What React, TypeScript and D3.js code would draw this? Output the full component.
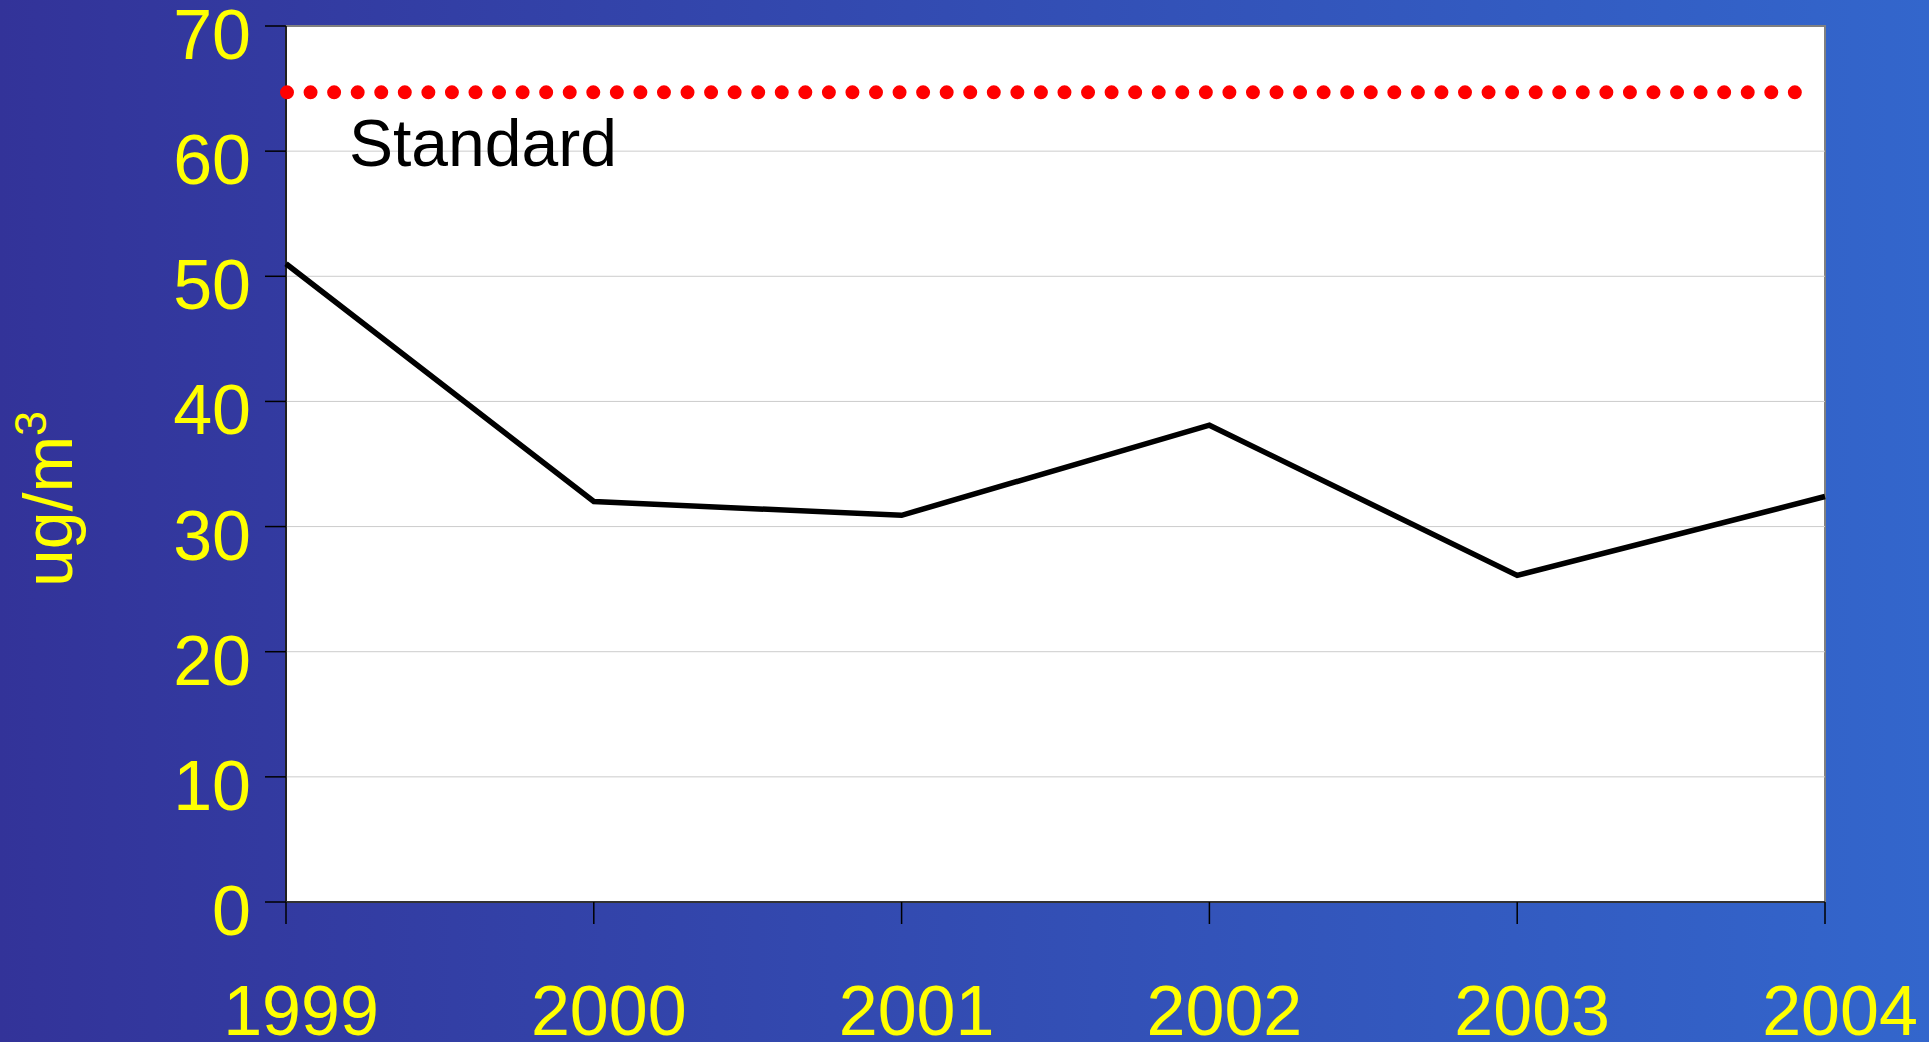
import React, { useEffect, useRef } from "react";
import * as d3 from "d3";

const years = ["1999", "2000", "2001", "2002", "2003", "2004"];
const concentration = [51.0, 32.0, 30.9, 38.1, 26.1, 32.4];
const standardValue = 64.7;
const yTicks = [0, 10, 20, 30, 40, 50, 60, 70];

export default function App() {
  const ref = useRef<SVGSVGElement>(null);

  useEffect(() => {
    if (!ref.current) return;
    const W = 1929,
      H = 1042;
    const margin = { top: 26, right: 104, bottom: 140, left: 286 };
    const width = W - margin.left - margin.right,
      height = H - margin.top - margin.bottom;

    const svg = d3.select(ref.current);
    svg.selectAll("*").remove();

    // background gradient
    const defs = svg.append("defs");
    const grad = defs
      .append("linearGradient")
      .attr("id", "bg")
      .attr("x1", "0")
      .attr("x2", "1")
      .attr("y1", "0")
      .attr("y2", "0");
    grad.append("stop").attr("offset", "0%").attr("stop-color", "#333399");
    grad.append("stop").attr("offset", "100%").attr("stop-color", "#3366cc");
    svg.append("rect").attr("width", W).attr("height", H).attr("fill", "url(#bg)");

    const g = svg
      .append("g")
      .attr("transform", "translate(" + margin.left + "," + margin.top + ")");

    var x = d3
      .scalePoint<string>()
      .domain(years)
      .range([0, width]);
    var y = d3.scaleLinear().domain([0, 70]).range([height, 0]);

    // plot area
    g.append("rect")
      .attr("width", width)
      .attr("height", height)
      .attr("fill", "white")
      .attr("stroke", "#808080")
      .attr("stroke-width", 2);

    // gridlines
    g.selectAll("grid")
      .data(yTicks.filter((d) => d > 0 && d < 70))
      .enter()
      .append("line")
      .attr("x1", 0)
      .attr("x2", width)
      .attr("y1", (d) => y(d))
      .attr("y2", (d) => y(d))
      .attr("stroke", "#cccccc")
      .attr("stroke-width", 1);

    // axes lines
    g.append("line")
      .attr("x1", 0)
      .attr("x2", 0)
      .attr("y1", 0)
      .attr("y2", height)
      .attr("stroke", "black")
      .attr("stroke-width", 1.5);
    g.append("line")
      .attr("x1", 0)
      .attr("x2", width)
      .attr("y1", height)
      .attr("y2", height)
      .attr("stroke", "#333")
      .attr("stroke-width", 2);

    // y ticks + labels
    g.selectAll("ytick")
      .data(yTicks)
      .enter()
      .append("line")
      .attr("x1", -21)
      .attr("x2", 0)
      .attr("y1", (d) => y(d))
      .attr("y2", (d) => y(d))
      .attr("stroke", "black")
      .attr("stroke-width", 1.5);
    g.selectAll("ylab")
      .data(yTicks)
      .enter()
      .append("text")
      .attr("x", -35)
      .attr("y", (d) => y(d) + 33)
      .attr("text-anchor", "end")
      .attr("fill", "#ffff00")
      .style("font-family", "'Liberation Sans', Arial, sans-serif")
      .style("font-size", "70px")
      .text((d) => d);

    // x ticks + labels
    g.selectAll("xtick")
      .data(years)
      .enter()
      .append("line")
      .attr("x1", (d) => x(d) ?? 0)
      .attr("x2", (d) => x(d) ?? 0)
      .attr("y1", height)
      .attr("y2", height + 22)
      .attr("stroke", "black")
      .attr("stroke-width", 1.5);
    g.selectAll("xlab")
      .data(years)
      .enter()
      .append("text")
      .attr("x", (d) => (x(d) ?? 0) + 15)
      .attr("y", height + 133)
      .attr("text-anchor", "middle")
      .attr("fill", "#ffff00")
      .style("font-family", "'Liberation Sans', Arial, sans-serif")
      .style("font-size", "70px")
      .text((d) => d);

    // y axis title
    const yt = svg
      .append("text")
      .attr("transform", "translate(72,499) rotate(-90)")
      .attr("text-anchor", "middle")
      .attr("fill", "#ffff00")
      .style("font-family", "'Liberation Sans', Arial, sans-serif")
      .style("font-size", "68px");
    yt.append("tspan").text("ug/m");
    yt.append("tspan")
      .attr("dy", -26)
      .style("font-size", "45px")
      .text("3");

    // standard dotted line
    g.append("line")
      .attr("x1", 1)
      .attr("x2", 1 + 64 * 23.56 + 2)
      .attr("y1", y(standardValue))
      .attr("y2", y(standardValue))
      .attr("stroke", "#ff0000")
      .attr("stroke-width", 14)
      .attr("stroke-linecap", "round")
      .attr("stroke-dasharray", "0 23.56");

    g.append("text")
      .attr("x", 63)
      .attr("y", 140)
      .attr("fill", "black")
      .style("font-family", "'Liberation Sans', Arial, sans-serif")
      .style("font-size", "66px")
      .text("Standard");

    // data line
    const line = d3
      .line<number>()
      .x((_, i) => x(years[i]) ?? 0)
      .y((d) => y(d));
    g.append("path")
      .datum(concentration)
      .attr("d", line)
      .attr("fill", "none")
      .attr("stroke", "black")
      .attr("stroke-width", 5.5)
      .attr("stroke-linejoin", "miter");
  }, []);

  return (
    <svg
      ref={ref}
      width={1929}
      height={1042}
      style={{ position: "fixed", left: 0, top: 0, display: "block" }}
    ></svg>
  );
}
